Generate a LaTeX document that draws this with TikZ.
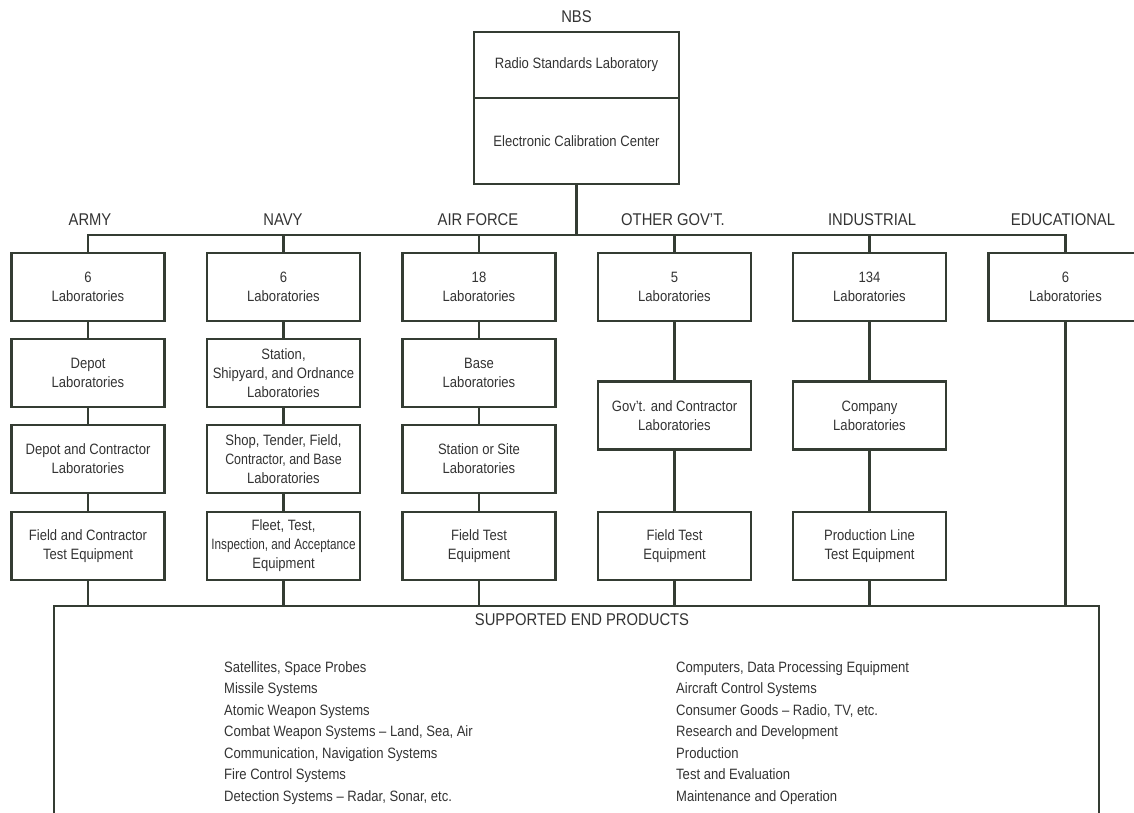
\documentclass[tikz,border=0pt]{standalone}
\usepackage{graphicx}
\usepackage{fontspec}
\setmainfont[FakeStretch=0.87]{Liberation Sans}
\definecolor{ink}{HTML}{343C33}
\definecolor{txt}{HTML}{333333}
\begin{document}
\begin{tikzpicture}[x=1pt,y=-1pt,
  box/.style={draw=ink, line width=2.1pt, minimum width=153pt, minimum height=68pt, align=center, inner sep=2pt, font=\fontsize{15}{19}\selectfont, text=txt},
  cat/.style={font=\fontsize{17}{19}\selectfont, text=txt, inner sep=1pt},
  ln/.style={draw=ink, line width=2.1pt},
  item/.style={anchor=base west, font=\fontsize{15}{17}\selectfont, text=txt, inner sep=0pt}]
\useasboundingbox (0,0) rectangle (1134,813);
\clip (0,0) rectangle (1134,813);
% NBS
\node[cat] (nbsl) at (576.5,17) {NBS};
\node[box, minimum width=205pt, minimum height=66pt] (nbs1) at (576.5,65) {Radio Standards Laboratory};
\node[box, minimum width=205pt, minimum height=86pt] (nbs2) at (576.5,141) {Electronic Calibration Center};
\coordinate (bus) at (576.5,235);
% category labels
\node[cat] (la) at (90,220) {ARMY};
\node[cat] (ln) at (283,220) {NAVY};
\node[cat] (lf) at (478,220) {AIR FORCE};
\node[cat] (lo) at (673,220) {OTHER GOV'T.};
\node[cat] (li) at (872,220) {INDUSTRIAL};
\node[cat] (le) at (1063,220) {EDUCATIONAL};
% Army
\node[box] (a1) at (88,287) {6\\Laboratories};
\node[box] (a2) at (88,373) {Depot\\Laboratories};
\node[box] (a3) at (88,459) {Depot and Contractor\\Laboratories};
\node[box] (a4) at (88,546) {Field and Contractor\\Test Equipment};
% Navy
\node[box] (n1) at (283.5,287) {6\\Laboratories};
\node[box] (n2) at (283.5,373) {Station,\\Shipyard, and Ordnance\\Laboratories};
\node[box] (n3) at (283.5,459) {Shop, Tender, Field,\\\scalebox{0.95}[1]{Contractor, and Base}\\Laboratories};
\node[box] (n4) at (283.5,546) {Fleet, Test,\\\scalebox{0.9}[1]{Inspection, and Acceptance}\\Equipment};
% Air Force
\node[box] (f1) at (479,287) {18\\Laboratories};
\node[box] (f2) at (479,373) {Base\\Laboratories};
\node[box] (f3) at (479,459) {Station or Site\\Laboratories};
\node[box] (f4) at (479,546) {Field Test\\Equipment};
% Other Gov't
\node[box] (o1) at (674.5,287) {5\\Laboratories};
\node[box] (o2) at (674.5,415.5) {Gov't. and Contractor\\Laboratories};
\node[box] (o3) at (674.5,546) {Field Test\\Equipment};
% Industrial
\node[box] (i1) at (869.5,287) {134\\Laboratories};
\node[box] (i2) at (869.5,415.5) {Company\\Laboratories};
\node[box] (i3) at (869.5,546) {Production Line\\Test Equipment};
% Educational
\node[box, minimum width=154pt] (e1) at (1065.5,287) {6\\Laboratories};
% End products
\node[draw=ink, line width=2.1pt, minimum width=1045pt, minimum height=240pt, anchor=north] (end) at (576.5,605) {};
\node[cat] (endt) at (582,620) {SUPPORTED END PRODUCTS};
\node[item] (p1) at (224,672) {Satellites, Space Probes};
\node[item] (p2) at (224,693.5) {Missile Systems};
\node[item] (p3) at (224,715) {Atomic Weapon Systems};
\node[item] (p4) at (224,736.5) {Combat Weapon Systems -- Land, Sea, Air};
\node[item] (p5) at (224,758) {Communication, Navigation Systems};
\node[item] (p6) at (224,779.5) {Fire Control Systems};
\node[item] (p7) at (224,801) {Detection Systems -- Radar, Sonar, etc.};
\node[item] (q1) at (676,672) {Computers, Data Processing Equipment};
\node[item] (q2) at (676,693.5) {Aircraft Control Systems};
\node[item] (q3) at (676,715) {Consumer Goods -- Radio, TV, etc.};
\node[item] (q4) at (676,736.5) {Research and Development};
\node[item] (q5) at (676,758) {Production};
\node[item] (q6) at (676,779.5) {Test and Evaluation};
\node[item] (q7) at (676,801) {Maintenance and Operation};
% connectors
\draw[ln] (nbs2.south) -- (bus);
\draw[ln] (a1.north) |- (e1.north |- bus) -- (e1.north);
\foreach \n in {n1,f1,o1,i1} \draw[ln] (\n.north) -- (\n.north |- bus);
\draw[ln] (a1) -- (a2) -- (a3) -- (a4);
\draw[ln] (n1) -- (n2) -- (n3) -- (n4);
\draw[ln] (f1) -- (f2) -- (f3) -- (f4);
\draw[ln] (o1) -- (o2) -- (o3);
\draw[ln] (i1) -- (i2) -- (i3);
\foreach \n in {a4,n4,f4,o3,i3,e1} \draw[ln] (\n.south) -- (\n.south |- end.north);
\end{tikzpicture}
\end{document}
